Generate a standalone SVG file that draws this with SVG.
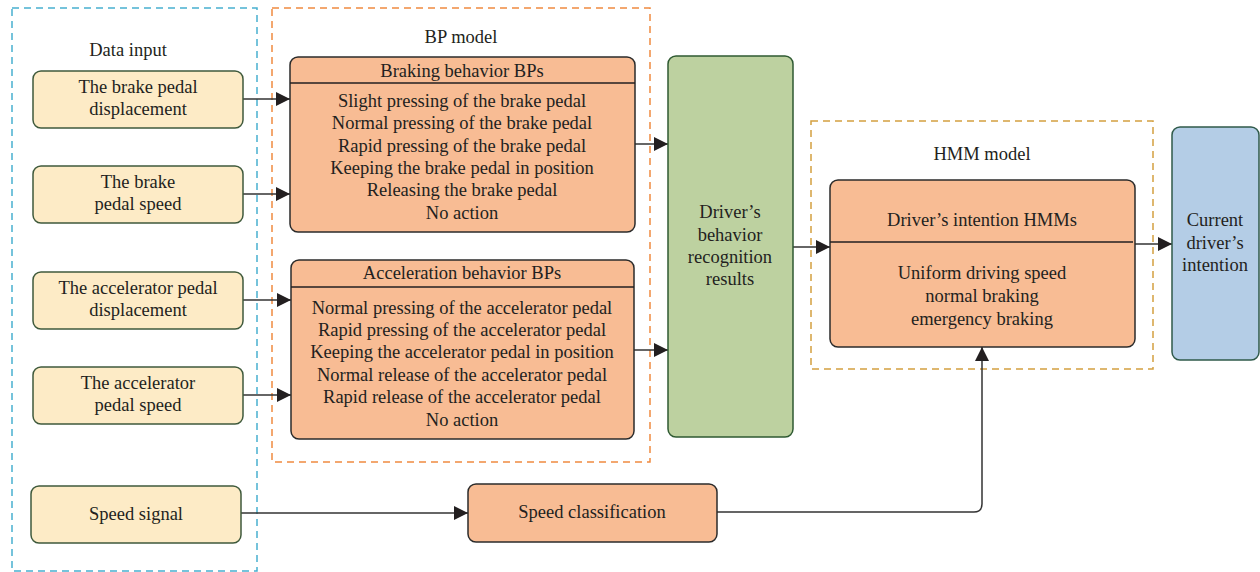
<svg xmlns="http://www.w3.org/2000/svg" width="1260" height="572" viewBox="0 0 1260 572">
<defs>
<marker id="ah" markerUnits="userSpaceOnUse" markerWidth="16" markerHeight="16" viewBox="0 0 16 16" refX="15" refY="8" orient="auto">
<path d="M1,1 L15,8 L1,15 Z" fill="#231f20"/>
</marker>
<style>
text{font-family:"Liberation Serif","DejaVu Serif",serif;font-size:18.5px;fill:#231f20;text-anchor:middle}
.in{fill:#fdebc6;stroke:#3f5a3c;stroke-width:1.5}
.or{fill:#f8bc94;stroke:#2b2b2b;stroke-width:1.5}
.gr{fill:#bdd1a0;stroke:#2f5a32;stroke-width:1.5}
.bl{fill:#b4cde6;stroke:#2f5a4a;stroke-width:1.5}
.dv{stroke:#231f20;stroke-width:1.5}
.dash{fill:none;stroke-width:1.5;stroke-dasharray:7 5}
.con{fill:none;stroke:#333;stroke-width:1.5}
</style>
</defs>
<g id="groups">
<rect class="dash" x="12" y="8" width="245" height="563" stroke="#48b0d0"/>
<text x="128" y="56">Data input</text>
<rect class="dash" x="272" y="8" width="378" height="454" stroke="#f08a40"/>
<text x="461" y="43">BP model</text>
<rect class="dash" x="811" y="121" width="342" height="248" stroke="#d4a040"/>
<text x="982" y="160">HMM model</text>
</g>
<g id="connectors">
<path class="con" d="M243,99 H290" marker-end="url(#ah)"/>
<path class="con" d="M243,194 H290" marker-end="url(#ah)"/>
<path class="con" d="M243,300 H291" marker-end="url(#ah)"/>
<path class="con" d="M243,395 H291" marker-end="url(#ah)"/>
<path class="con" d="M635,144 H668" marker-end="url(#ah)"/>
<path class="con" d="M634,350 H668" marker-end="url(#ah)"/>
<path class="con" d="M793,247 H830" marker-end="url(#ah)"/>
<path class="con" d="M1135,244 H1172" marker-end="url(#ah)"/>
<path class="con" d="M241,513 H468" marker-end="url(#ah)"/>
<path class="con" d="M717,512 H974 Q982,512 982,504 V347" marker-end="url(#ah)"/>
</g>
<g id="in1"><rect class="in" x="33" y="71" width="210" height="57" rx="8"/><text x="138" y="93">The brake pedal</text><text x="138" y="115">displacement</text></g>
<g id="in2"><rect class="in" x="33" y="166" width="210" height="57" rx="8"/><text x="138" y="188">The brake</text><text x="138" y="210">pedal speed</text></g>
<g id="in3"><rect class="in" x="33" y="272" width="210" height="57" rx="8"/><text x="138" y="294">The accelerator pedal</text><text x="138" y="316">displacement</text></g>
<g id="in4"><rect class="in" x="33" y="367" width="210" height="57" rx="8"/><text x="138" y="389">The accelerator</text><text x="138" y="411">pedal speed</text></g>
<g id="in5"><rect class="in" x="31" y="486" width="210" height="57" rx="8"/><text x="136" y="520">Speed signal</text></g>
<g id="braking">
<rect class="or" x="290" y="57" width="345" height="175" rx="8"/>
<line class="dv" x1="290" y1="83" x2="635" y2="83"/>
<text x="462" y="77">Braking behavior BPs</text>
<text x="462" y="107">Slight pressing of the brake pedal</text>
<text x="462" y="129">Normal pressing of the brake pedal</text>
<text x="462" y="152">Rapid pressing of the brake pedal</text>
<text x="462" y="174">Keeping the brake pedal in position</text>
<text x="462" y="196">Releasing the brake pedal</text>
<text x="462" y="219">No action</text>
</g>
<g id="accel">
<rect class="or" x="291" y="260" width="343" height="179" rx="8"/>
<line class="dv" x1="291" y1="287" x2="634" y2="287"/>
<text x="462" y="279">Acceleration behavior BPs</text>
<text x="462" y="314">Normal pressing of the accelerator pedal</text>
<text x="462" y="336">Rapid pressing of the accelerator pedal</text>
<text x="462" y="358">Keeping the accelerator pedal in position</text>
<text x="462" y="381">Normal release of the accelerator pedal</text>
<text x="462" y="403">Rapid release of the accelerator pedal</text>
<text x="462" y="426">No action</text>
</g>
<g id="result">
<rect class="gr" x="668" y="56" width="125" height="381" rx="8"/>
<text x="730" y="218">Driver’s</text>
<text x="730" y="241">behavior</text>
<text x="730" y="263">recognition</text>
<text x="730" y="285">results</text>
</g>
<g id="hmm">
<rect class="or" x="830" y="180" width="305" height="167" rx="8"/>
<line class="dv" x1="830" y1="242" x2="1133" y2="242"/>
<text x="982" y="226">Driver’s intention HMMs</text>
<text x="982" y="279">Uniform driving speed</text>
<text x="982" y="302">normal braking</text>
<text x="982" y="325">emergency braking</text>
</g>
<g id="current">
<rect class="bl" x="1172" y="127" width="87" height="233" rx="8"/>
<text x="1215" y="226">Current</text>
<text x="1215" y="249">driver’s</text>
<text x="1215" y="271">intention</text>
</g>
<g id="speedclass">
<rect class="or" x="468" y="484" width="249" height="58" rx="8"/>
<text x="592" y="518">Speed classification</text>
</g>
</svg>
